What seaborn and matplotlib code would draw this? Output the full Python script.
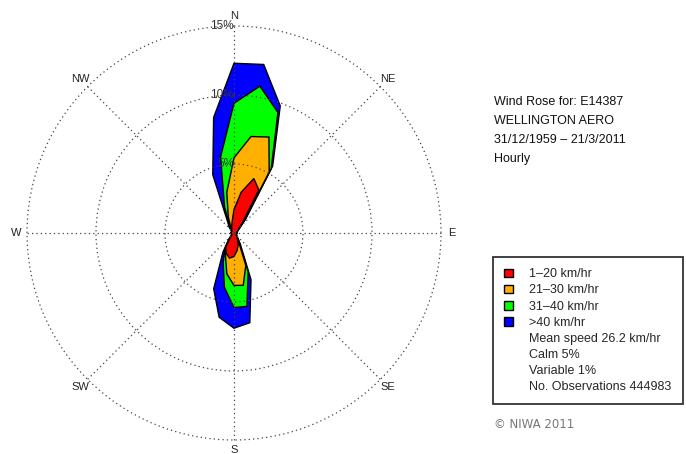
import numpy as np
import matplotlib
matplotlib.use("Agg")
import matplotlib.pyplot as plt
from matplotlib.patches import Patch
import seaborn as sns

sns.set_theme(style="white")
plt.rcParams["font.family"] = ["Liberation Sans", "DejaVu Sans"]

# wind direction sectors (degrees from north) and frequency (%) per speed class
directions = list(range(0, 360, 10))
speed_classes = ["1–20 km/hr", "21–30 km/hr", "31–40 km/hr", ">40 km/hr"]
freq_1_20 = [1.7, 3.0, 4.2, 3.6, 0.9, 0.4, 0.3, 0.2, 0.2, 0.2, 0.2, 0.2,
             0.2, 0.2, 0.3, 0.5, 0.9, 1.3, 1.7, 1.85, 1.6, 1.2, 0.4, 0.2,
             0.2, 0.2, 0.2, 0.2, 0.2, 0.2, 0.2, 0.2, 0.3, 0.3, 0.5, 0.8]
freq_21_30 = [3.75, 4.1, 3.2, 1.5, 0.2, 0.05, 0.0, 0.0, 0.0, 0.0, 0.0, 0.0,
              0.0, 0.0, 0.05, 0.1, 1.6, 2.55, 2.1, 1.15, 0.2, 0.0, 0.05, 0.0,
              0.0, 0.0, 0.0, 0.0, 0.0, 0.0, 0.0, 0.0, 0.05, 0.15, 0.7, 2.2]
freq_31_40 = [3.95, 3.7, 1.9, 0.3, 0.1, 0.05, 0.0, 0.0, 0.0, 0.0, 0.0, 0.0,
              0.0, 0.0, 0.0, 0.1, 0.5, 1.55, 1.6, 1.0, 0.5, 0.1, 0.05, 0.0,
              0.0, 0.0, 0.0, 0.0, 0.0, 0.0, 0.0, 0.0, 0.1, 0.15, 0.8, 2.6]
freq_over_40 = [2.9, 1.6, 0.5, 0.2, 0.1, 0.0, 0.0, 0.0, 0.0, 0.0, 0.0, 0.0,
                0.0, 0.0, 0.0, 0.2, 0.6, 1.2, 1.5, 2.2, 2.0, 0.3, 0.1, 0.0,
                0.0, 0.0, 0.0, 0.0, 0.0, 0.0, 0.0, 0.0, 0.1, 0.3, 2.5, 2.9]
class_colors = ["#FF0000", "#FFB000", "#00FF00", "#0000FF"]

ring_levels = [5, 10, 15]
compass_angles = [0, 45, 90, 135, 180, 225, 270, 315]
compass_labels = ["N", "NE", "E", "SE", "S", "SW", "W", "NW"]

station_info = ["Wind Rose for: E14387", "WELLINGTON AERO",
                "31/12/1959 – 21/3/2011", "Hourly"]
summary_lines = ["Mean speed 26.2 km/hr", "Calm 5%", "Variable 1%",
                 "No. Observations 444983"]

# figure, polar axes centred at (234, 233) px, 15% ring at 207 px
W, H = 686, 454
rmax = 15.1
R = 207 / 15 * rmax
fig = plt.figure(figsize=(W / 100, H / 100), dpi=100)
ax = fig.add_axes([(234 - R) / W, (H - 233 - R) / H, 2 * R / W, 2 * R / H],
                  projection="polar")
ax.set_theta_zero_location("N")
ax.set_theta_direction(-1)
ax.set_ylim(0, rmax)
ax.patch.set_visible(False)

# stacked (cumulative) petals, largest drawn first
cum = np.cumsum(np.array([freq_1_20, freq_21_30, freq_31_40, freq_over_40]), axis=0)
theta = np.deg2rad(directions + [directions[0]])
handles = [None] * 4
for i in reversed(range(4)):
    r = list(cum[i]) + [cum[i][0]]
    poly = ax.fill(theta, r, facecolor=class_colors[i], edgecolor="black",
                   linewidth=1.0, label=speed_classes[i])[0]
    handles[i] = poly

# dotted grid on top of petals
ax.set_rgrids(ring_levels, labels=[""] * len(ring_levels))
ax.set_thetagrids(compass_angles, labels=[""] * len(compass_angles))
ax.set_axisbelow(False)
ax.grid(True, color="#444444", linestyle=(0, (1, 2.5)), linewidth=0.9)
ax.spines["polar"].set_visible(False)
ax.tick_params(length=0)

for ang, lab in zip(compass_angles, compass_labels):
    ax.text(np.deg2rad(ang), 15.75, lab, ha="center", va="center",
            fontsize=8, color="#222222", clip_on=False)
for lvl in ring_levels:
    ax.text(0, lvl, f"{lvl}%", ha="right", va="center", fontsize=8.5,
            color="#333333", zorder=4)

# station info block
fig.text(494 / W, 1 - 96 / H, "\n".join(station_info), ha="left", va="top",
         fontsize=9, linespacing=1.79, color="#111111")

# legend with summary lines
extra = [Patch(facecolor="none", edgecolor="none") for _ in summary_lines]
leg = fig.legend(handles + extra, speed_classes + summary_lines,
                 loc="upper left", bbox_to_anchor=(493 / W, 1 - 257 / H),
                 bbox_transform=fig.transFigure, frameon=True, fancybox=False,
                 edgecolor="#333333", framealpha=1, fontsize=9,
                 handlelength=0.7, handleheight=0.7, handletextpad=1.3,
                 labelspacing=0.33, borderpad=0.9, borderaxespad=0)
leg.get_frame().set_linewidth(1.3)

fig.text(494 / W, 1 - 425 / H, "© NIWA 2011", ha="left", va="center",
         fontsize=8.5, color="#777777", family="DejaVu Sans")

fig.savefig("out.png", dpi=100)
